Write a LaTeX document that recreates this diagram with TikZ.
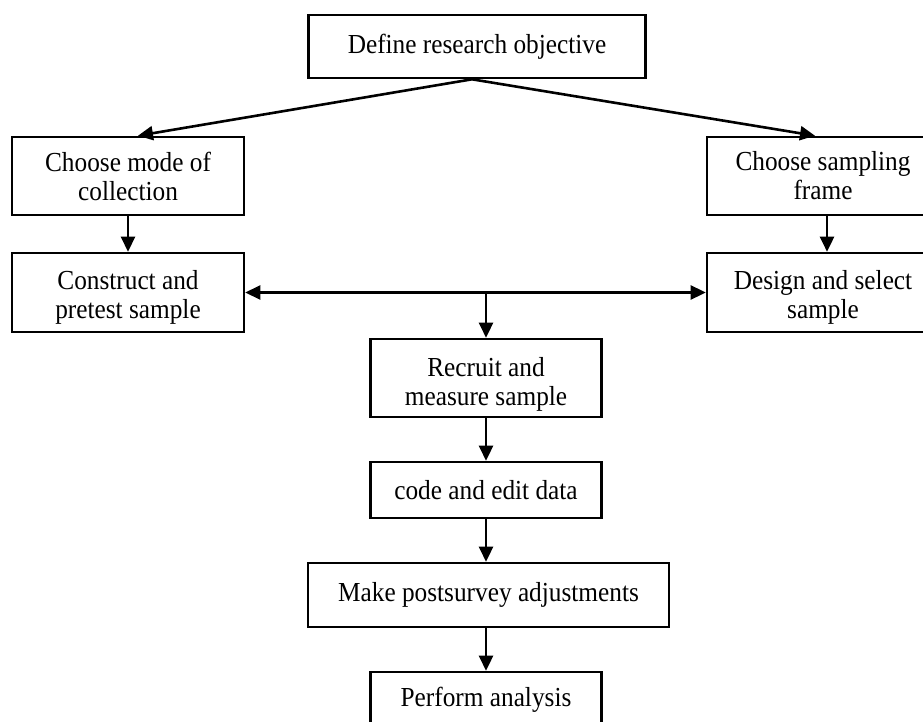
\documentclass[tikz,border=0pt]{standalone}
\usepackage{fontspec}
\setmainfont{Liberation Serif}[FakeStretch=0.92]
\usetikzlibrary{arrows.meta}
\newcommand{\lowtxt}[2]{\raisebox{-#1}[\height][\depth]{\begin{tabular}{@{}c@{}}#2\end{tabular}}}
\begin{document}
\begin{tikzpicture}[x=1pt,y=-1pt,
  box/.style={draw, line width=2.6pt, align=center, inner sep=0pt,
    font=\fontsize{27.5}{29}\selectfont},
  arr/.style={line width=2.6pt, -{Triangle[length=15pt,width=14pt]}},
  darr/.style={line width=2.6pt, {Triangle[length=15pt,width=14pt]}-{Triangle[length=15pt,width=14pt]}}]
\useasboundingbox (0,0) rectangle (923,722);
\fill[white] (0,0) rectangle (923,722);
\clip (0,0) rectangle (923,722);
\node[box, minimum width=337pt, minimum height=63pt] (def) at (477,46.5) {Define research objective};
\node[box, minimum width=232pt, minimum height=78pt] (mode) at (128,176) {Choose mode of\\collection};
\node[box, minimum width=232pt, minimum height=78pt] (frame) at (823,176) {Choose sampling\\frame};
\node[box, minimum width=232pt, minimum height=79pt] (cons) at (128,292.5) {\lowtxt{6pt}{Construct and\\pretest sample}};
\node[box, minimum width=232pt, minimum height=79pt] (design) at (823,292.5) {\lowtxt{6pt}{Design and select\\sample}};
\node[box, minimum width=231pt, minimum height=78pt] (recruit) at (486,378) {\lowtxt{7pt}{Recruit and\\measure sample}};
\node[box, minimum width=231pt, minimum height=56pt] (code) at (486,490) {code and edit data};
\node[box, minimum width=361pt, minimum height=64pt] (make) at (488.5,595) {Make postsurvey adjustments};
\node[box, minimum width=231pt, minimum height=56pt] (perf) at (486,700) {Perform analysis};
\coordinate (top) at ([xshift=-5pt]def.south);
\draw[arr] (top) -- ([xshift=10pt]mode.north);
\draw[arr] (top) -- ([xshift=-8pt]frame.north);
\draw[arr] (mode.south) -- (cons.north);
\draw[arr] ([xshift=4pt]frame.south) -- ([xshift=4pt]design.north);
\draw[darr] (cons.east) -- (design.west);
\coordinate (mid) at (recruit.north |- cons.east);
\draw[arr] (mid) -- (recruit.north);
\draw[arr] (recruit.south) -- (code.north);
\draw[arr] (code.south) -- (code.south |- make.north);
\draw[arr] (code.south |- make.south) -- (perf.north);
\end{tikzpicture}
\end{document}
